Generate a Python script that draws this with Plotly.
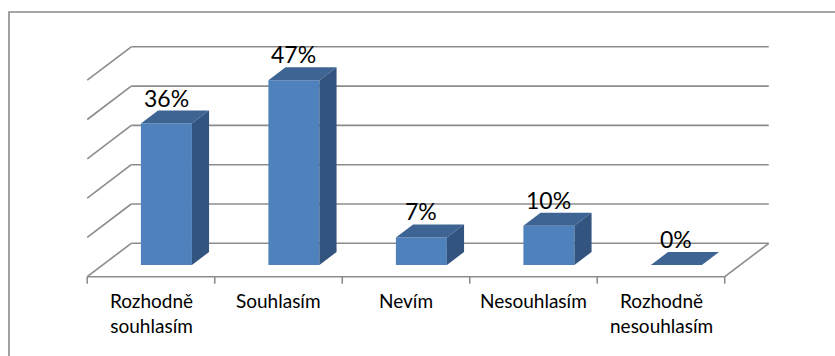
import plotly.graph_objects as go

# ---- data ----
categories = ["Rozhodně<br>souhlasím", "Souhlasím", "Nevím", "Nesouhlasím", "Rozhodně<br>nesouhlasím"]
values = [36, 47, 7, 10, 0]
value_labels = ["36%", "47%", "7%", "10%", "0%"]
grid_values = [0, 10, 20, 30, 40, 50]

# ---- geometry (pixel calibration of the oblique 3D look) ----
W, H = 835, 356
PXX = 127.5      # px per category
CX0 = 151.0      # pixel x of category 0 (front plane)
PXY = 3.93       # px per percent
Y0PIX = 276.7    # pixel y of 0 on the front plane
DX = 44.0 / PXX  # depth offset (full depth) in data units
DY = 33.4 / PXY
D_FRONT, D_BACK = 0.35, 0.74
BAR_W = 0.4
GRID = "#8C8C8C"
C_FRONT, C_TOP, C_SIDE = "#4F81BD", "#3D6493", "#32547F"
FONT = "Lato"

xr = [-CX0 / PXX, (W - CX0) / PXX]
yr = [-(H - Y0PIX) / PXY, Y0PIX / PXY]

n = len(categories)
xl_floor, xr_floor = -0.5, n - 0.5

fig = go.Figure()
shapes = []

def line(x0, y0, x1, y1, w=1.6):
    shapes.append(dict(type="line", xref="x", yref="y", x0=x0, y0=y0, x1=x1, y1=y1,
                       line=dict(color=GRID, width=w), layer="below"))

# back wall gridlines + left wall diagonals
for g in grid_values:
    line(xl_floor + DX, g + DY, xr_floor + DX, g + DY)
    line(xl_floor, g, xl_floor + DX, g + DY)
# floor front edge, right edge, ticks
line(xl_floor, 0, xr_floor, 0)
line(xr_floor, 0, xr_floor + DX, DY)
for k in range(n + 1):
    line(xl_floor + k, 0, xl_floor + k, -7 / PXY)

# outer chart border
shapes.append(dict(type="rect", xref="paper", yref="paper", x0=9 / W, x1=1.05,
                   y0=-0.05, y1=1 - 12 / H, line=dict(color="#8A8A8A", width=1.6),
                   layer="below"))

fdx, fdy = D_FRONT * DX, D_FRONT * DY
ddx, ddy = (D_BACK - D_FRONT) * DX, (D_BACK - D_FRONT) * DY
centers = [i + fdx for i in range(n)]

fig.add_trace(go.Bar(x=centers, y=values, base=[fdy] * n, width=BAR_W,
                     marker=dict(color=C_FRONT, line=dict(width=0)), hoverinfo="skip"))

annotations = []
for i, v in enumerate(values):
    xa, xb = centers[i] - BAR_W / 2, centers[i] + BAR_W / 2
    yb, yt = fdy, fdy + v
    # top face
    fig.add_trace(go.Scatter(x=[xa, xb, xb + ddx, xa + ddx, xa],
                             y=[yt, yt, yt + ddy, yt + ddy, yt],
                             fill="toself", fillcolor=C_TOP, mode="lines",
                             line=dict(width=0, color=C_TOP), hoverinfo="skip"))
    # side face
    if v > 0:
        fig.add_trace(go.Scatter(x=[xb, xb + ddx, xb + ddx, xb, xb],
                                 y=[yb, yb + ddy, yt + ddy, yt, yb],
                                 fill="toself", fillcolor=C_SIDE, mode="lines",
                                 line=dict(width=0, color=C_SIDE), hoverinfo="skip"))
    annotations.append(dict(x=centers[i], y=yt + ddy, xref="x", yref="y",
                            text=value_labels[i], showarrow=False, yanchor="middle",
                            yshift=13, font=dict(family=FONT, size=23, color="#000")))
    annotations.append(dict(x=i, y=0, xref="x", yref="y", text=categories[i],
                            showarrow=False, yanchor="top", yshift=-10,
                            font=dict(family=FONT, size=19, color="#000")))

fig.update_layout(
    width=W, height=H, margin=dict(l=0, r=0, t=0, b=0),
    paper_bgcolor="white", plot_bgcolor="white", showlegend=False,
    xaxis=dict(range=xr, visible=False, fixedrange=True),
    yaxis=dict(range=yr, visible=False, fixedrange=True),
    shapes=shapes, annotations=annotations,
)
fig.write_html("out.html")
